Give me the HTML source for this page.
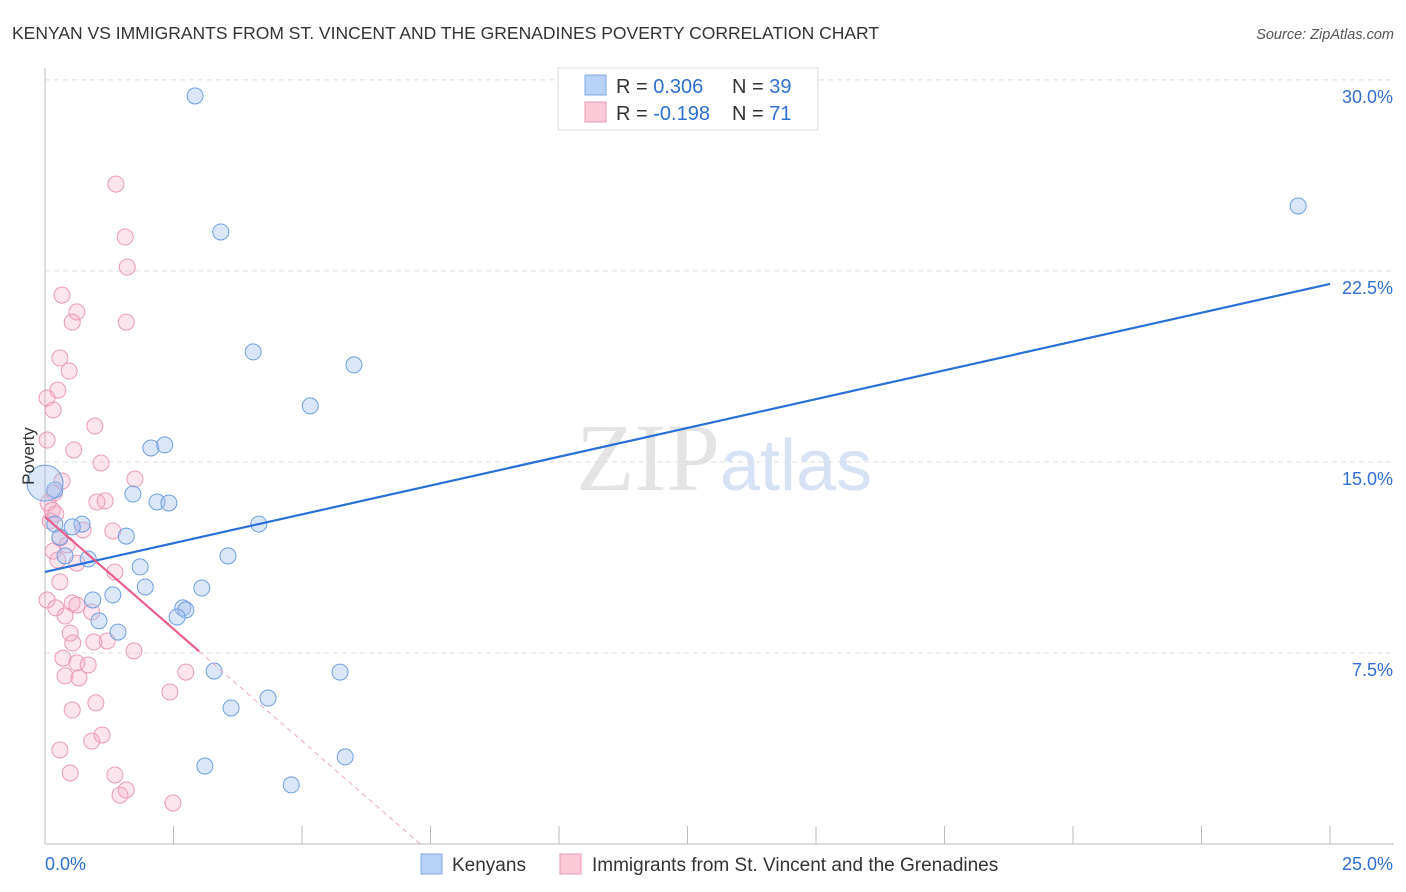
<!DOCTYPE html>
<html><head><meta charset="utf-8"><style>
body{margin:0;background:#fff;font-family:"Liberation Sans",sans-serif}
svg{display:block}
</style></head><body>
<svg id="chart" width="1406" height="892" xmlns="http://www.w3.org/2000/svg">
<text x="12" y="39" font-size="17.5" fill="#333">KENYAN VS IMMIGRANTS FROM ST. VINCENT AND THE GRENADINES POVERTY CORRELATION CHART</text>
<text x="1394" y="39" font-size="14.5" fill="#555" font-style="italic" text-anchor="end">Source: ZipAtlas.com</text>
<text x="720" y="490" font-size="96" fill="#e4e4e4" text-anchor="end" font-family="Liberation Serif">ZIP</text>
<text x="720" y="490" font-size="72" fill="#d7e3f5">atlas</text>
<g id="grid"></g>
<g id="axes"></g>
<g id="pts"></g>
<g id="lines"></g>
<text x="34" y="456" font-size="17" fill="#333" text-anchor="middle" transform="rotate(-90 34 456)">Poverty</text>
<g>
<rect x="558" y="68" width="260" height="62" fill="#fff" stroke="#ddd"/>
<rect x="585" y="75" width="21" height="20" fill="#b9d1f5" stroke="#7fa8e6"/>
<rect x="585" y="102" width="21" height="20" fill="#fbc9d8" stroke="#ee9ab5"/>
<text x="616" y="93" font-size="20" fill="#333">R = <tspan fill="#2f6fd0">0.306</tspan></text>
<text x="732" y="93" font-size="20" fill="#333">N = <tspan fill="#2f6fd0">39</tspan></text>
<text x="616" y="120" font-size="20" fill="#333">R = <tspan fill="#2f6fd0">-0.198</tspan></text>
<text x="732" y="120" font-size="20" fill="#333">N = <tspan fill="#2f6fd0"> 71</tspan></text>
</g>
<g>
<rect x="421" y="854" width="21" height="20" fill="#b9d1f5" stroke="#7fa8e6"/>
<text x="452" y="871" font-size="19" fill="#333">Kenyans</text>
<rect x="560" y="854" width="21" height="20" fill="#fbc9d8" stroke="#ee9ab5"/>
<text x="592" y="871" font-size="19" fill="#333">Immigrants from St. Vincent and the Grenadines</text>
</g>
<script>
const xTicks=[0,2.5,5,7.5,10,12.5,15,17.5,20,22.5,25];
const yTicks=[7.5,15,22.5,30];
const yTickLabels=["7.5%","15.0%","22.5%","30.0%"];
const xTickLabels=["0.0%","25.0%"];
const blueX=[2.92,3.42,24.38,4.05,6.01,5.16,2.06,2.33,1.71,2.18,2.41,4.16,0.19,0.72,0.29,1.58,0.84,3.56,1.85,1.95,3.05,0.93,1.32,1.05,2.68,2.74,2.57,1.42,3.29,5.74,4.34,3.62,3.11,5.84,4.79,0.19,0.53,0.39];
const blueY=[29.37,24.03,25.05,19.32,18.81,17.20,15.55,15.67,13.74,13.43,13.39,12.56,12.56,12.56,12.05,12.09,11.19,11.31,10.88,10.09,10.05,9.58,9.78,8.76,9.27,9.19,8.91,8.32,6.79,6.75,5.73,5.34,3.06,3.42,2.32,13.90,12.45,11.31];
const bigX=[0];const bigY=[14.17];
const pinkX=[1.38,1.56,1.60,0.33,0.62,0.53,1.58,0.29,0.47,0.25,0.04,0.16,0.97,0.04,0.56,1.09,0.33,1.75,0.18,0.06,1.01,1.17,0.14,0.21,0.10,0.74,1.32,0.29,0.43,0.16,0.25,0.62,1.36,0.29,0.04,0.21,0.53,0.62,0.91,0.39,0.49,0.54,0.95,1.21,1.73,0.35,0.62,0.84,0.39,0.66,2.74,2.43,0.99,0.53,1.11,0.91,0.29,0.49,1.36,1.58,1.46,2.49];
const pinkY=[25.91,23.83,22.65,21.55,20.89,20.49,20.49,19.08,18.57,17.82,17.51,17.04,16.41,15.86,15.47,14.96,14.25,14.33,13.78,13.39,13.43,13.47,13.11,12.96,12.68,12.33,12.29,12.01,11.74,11.50,11.15,11.03,10.68,10.29,9.58,9.27,9.46,9.38,9.11,8.95,8.28,7.89,7.93,7.97,7.58,7.30,7.11,7.03,6.60,6.52,6.75,5.97,5.54,5.26,4.28,4.04,3.69,2.79,2.71,2.12,1.92,1.61];
const blueTrend=[10.68,21.99];
const pinkTrend=[12.84,0];const pinkSolidEnd=3.0;const pinkZeroX=7.3;
const NS="http://www.w3.org/2000/svg";
const X=v=>45+v*51.4, Y=v=>844-v*25.47;
function mk(tag,attrs,parent){const e=document.createElementNS(NS,tag);for(const k in attrs)e.setAttribute(k,attrs[k]);document.getElementById(parent).appendChild(e);return e;}
yTicks.forEach((t,i)=>{
 const l=mk('line',{x1:45,x2:1394,y1:Y(t),y2:Y(t),stroke:'#ddd','stroke-dasharray':'5,4'},'grid');
 
 
 const tx=mk('text',{x:1393,y:Y(t)+23,'font-size':18,fill:'#2f6fd0','text-anchor':'end'},'axes');tx.textContent=yTickLabels[i];
 
 
});
const ax=mk('line',{x1:45,x2:1394,y1:844,y2:844,stroke:'#bbb'},'axes');


const ay=mk('line',{x1:45,x2:45,y1:68,y2:844,stroke:'#bbb'},'axes');


xTicks.forEach(t=>{const l=mk('line',{x1:X(t),x2:X(t),y1:826,y2:844,stroke:'#bbb'},'axes');
 
 });
const xl0=mk('text',{x:45,y:870,'font-size':18,fill:'#2f6fd0'},'axes');xl0.textContent=xTickLabels[0];


const xl1=mk('text',{x:1393,y:870,'font-size':18,fill:'#2f6fd0','text-anchor':'end'},'axes');xl1.textContent=xTickLabels[1];


pinkX.forEach((v,i)=>{const c=mk('circle',{cx:X(v),cy:Y(pinkY[i]),r:8,fill:'rgba(246,168,196,0.3)',stroke:'#eb9ab5','stroke-width':1},'pts');
 
 });
blueX.forEach((v,i)=>{const c=mk('circle',{cx:X(v),cy:Y(blueY[i]),r:8,fill:'rgba(164,196,240,0.4)',stroke:'#6f9fe0','stroke-width':1},'pts');
 
 });
bigX.forEach((v,i)=>{const c=mk('circle',{cx:X(v),cy:Y(bigY[i]),r:18,fill:'rgba(164,196,240,0.4)',stroke:'#6f9fe0','stroke-width':1},'pts');
 
 });
const bl=mk('line',{x1:X(0),y1:Y(blueTrend[0]),x2:X(25),y2:Y(blueTrend[1]),stroke:'#2b70d6','stroke-width':2.2},'lines');


const slope=(pinkTrend[1]-pinkTrend[0])/pinkZeroX;
const pl=mk('line',{x1:X(0),y1:Y(pinkTrend[0]),x2:X(pinkSolidEnd),y2:Y(pinkTrend[0]+slope*pinkSolidEnd),stroke:'#e8608a','stroke-width':2.2},'lines');


const pd=mk('line',{x1:X(pinkSolidEnd),y1:Y(pinkTrend[0]+slope*pinkSolidEnd),x2:X(pinkZeroX),y2:Y(pinkTrend[1]),stroke:'#f0a8be','stroke-width':1,'stroke-dasharray':'5,4'},'lines');


</script>
</svg>
</body></html>
